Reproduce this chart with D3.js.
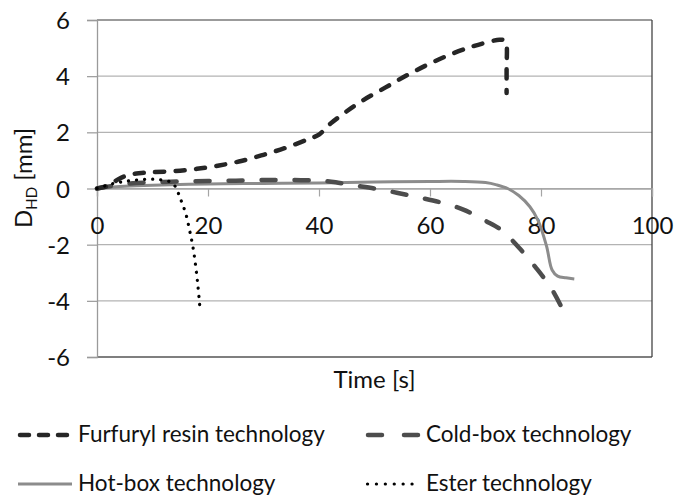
<!DOCTYPE html>
<html><head><meta charset="utf-8">
<script src="https://cdn.jsdelivr.net/npm/d3@7"></script>
<style>body{margin:0;background:#fff}svg{display:block}text{font-family:Lato,"Noto Sans",sans-serif;fill:#111}</style>
</head><body><svg id="c" width="691" height="497"></svg>
<script>
const xTicks=[0,20,40,60,80,100];
const yTicks=[-6,-4,-2,0,2,4,6];
const seriesNames=["Furfuryl resin technology","Cold-box technology","Hot-box technology","Ester technology"];
const furfurylT=[0,2,4,6,8,10,14,18,22,26,30,34,38,40,42,45,48,52,56,60,64,68,71,72.5,73.5,73.8,73.8,73.8];
const furfurylV=[0,0.1,0.35,0.5,0.55,0.58,0.62,0.7,0.82,0.98,1.2,1.45,1.75,1.92,2.3,2.75,3.15,3.6,4.05,4.45,4.8,5.08,5.24,5.3,5.27,5.1,4.3,3.4];
const coldT=[0,3,6,10,15,20,25,30,35,40,43,46,50,54,58,62,66,70,73,76,79,82,84.5];
const coldV=[0,0.1,0.18,0.22,0.25,0.27,0.28,0.3,0.3,0.28,0.22,0.12,0.0,-0.15,-0.32,-0.5,-0.75,-1.15,-1.5,-2.1,-2.8,-3.6,-4.55];
const hotT=[0,5,10,20,30,40,50,60,66,70,72,74,76,78,79.5,81,82,83,84.5,86];
const hotV=[0,0.08,0.12,0.16,0.18,0.2,0.23,0.25,0.25,0.21,0.13,0.0,-0.25,-0.65,-1.15,-2.05,-2.9,-3.12,-3.18,-3.22];
const esterT=[0,3,5,7,9,11,13,14,15,16,16.7,17.3,17.8,18.2,18.5];
const esterV=[0,0.18,0.25,0.3,0.33,0.32,0.25,0.1,-0.35,-0.9,-1.5,-2.1,-2.8,-3.5,-4.15];

const svg=d3.select("#c");
const L=97,R=652,T=20,B=357;
const x=d3.scaleLinear().domain([0,100]).range([L,R]);
const y=d3.scaleLinear().domain([-6,6]).range([B,T]);
const FS=24, LFS=22.5;

svg.append("g").selectAll("line").data(yTicks.filter(d=>d!==-6&&d!==6)).join("line")
 .attr("x1",L).attr("x2",R).attr("y1",d=>y(d)).attr("y2",d=>y(d))
 .attr("stroke","#b3b3b3").attr("stroke-width",1.2);
svg.append("line").attr("x1",L).attr("x2",R).attr("y1",T).attr("y2",T).attr("stroke","#7a7a7a").attr("stroke-width",1.3);
svg.append("line").attr("x1",L).attr("x2",R).attr("y1",B).attr("y2",B).attr("stroke","#555").attr("stroke-width",1.3);
svg.append("line").attr("x1",R).attr("x2",R).attr("y1",T).attr("y2",B).attr("stroke","#444").attr("stroke-width",1.3);

const ya=d3.axisLeft(y).tickValues(yTicks).tickSize(10).tickFormat(d3.format("d"));
const gy=svg.append("g").attr("transform",`translate(${L},0)`).call(ya);
gy.select(".domain").attr("stroke","#9a9a9a").attr("stroke-width",1.3);
gy.selectAll(".tick line").attr("stroke","#9a9a9a").attr("stroke-width",1.2);
gy.selectAll(".tick text").attr("x",-27).attr("dy","0.36em").style("font-size",FS+"px").attr("fill","#111")
 .text(d=>d<0?"-"+Math.abs(d):d);

const xa=d3.axisBottom(x).tickValues(xTicks).tickSize(8).tickFormat(d3.format("d"));
const gx=svg.append("g").attr("transform",`translate(0,${y(0)})`).call(xa);
gx.select(".domain").attr("stroke","#a5a5a5").attr("stroke-width",1.3);
gx.selectAll(".tick line").attr("stroke","#a5a5a5").attr("stroke-width",1.2);
gx.selectAll(".tick text").attr("y",45).attr("dy",0).style("font-size",FS+"px").attr("fill","#111");

svg.append("text").attr("x",(L+R)/2).attr("y",388).attr("text-anchor","middle").style("font-size",FS+"px").text("Time [s]");
const yt=svg.append("text").attr("transform","translate(32,178) rotate(-90)").attr("text-anchor","middle").style("font-size",FS+"px");
yt.append("tspan").text("D");
yt.append("tspan").attr("dy",5).style("font-size","15px").text("HD");
yt.append("tspan").attr("dy",-5).text(" [mm]");

const styles=[
 {c:"#262626",w:4.5,dash:"9,11.5",cap:"round"},
 {c:"#4d4d4d",w:4.5,dash:"14,19",cap:"round"},
 {c:"#8c8c8c",w:3,dash:null,cap:"butt"},
 {c:"#000",w:3.2,dash:"0.1,8",cap:"round"}
];
const data=[d3.zip(furfurylT,furfurylV),d3.zip(coldT,coldV),d3.zip(hotT,hotV),d3.zip(esterT,esterV)];
const lineC=d3.line().x(d=>x(d[0])).y(d=>y(d[1])).curve(d3.curveCatmullRom.alpha(0.5));
[2,1,0,3].forEach(i=>{
 const s=styles[i];
 svg.append("path").datum(data[i]).attr("d",lineC).attr("fill","none")
  .attr("stroke",s.c).attr("stroke-width",s.w).attr("stroke-dasharray",s.dash)
  .attr("stroke-linecap",s.cap).attr("stroke-linejoin","round");
});

const leg=[{x:18,y:435,t:78},{x:366,y:435,t:426},{x:18,y:484,t:78},{x:366,y:484,t:426}];
const legDash=["9,10","14,22",null,"0.1,8.8"];
const legPad=[2,2,0,1.5];
seriesNames.forEach((n,i)=>{
 const s=styles[i],p=leg[i];
 svg.append("line").attr("x1",p.x+legPad[i]).attr("x2",p.x+54-legPad[i]).attr("y1",p.y).attr("y2",p.y)
  .attr("stroke",s.c).attr("stroke-width",s.w).attr("stroke-dasharray",legDash[i]).attr("stroke-linecap",s.cap);
 svg.append("text").attr("x",p.t).attr("y",p.y+7).style("font-size",LFS+"px").text(n);
});
</script></body></html>
